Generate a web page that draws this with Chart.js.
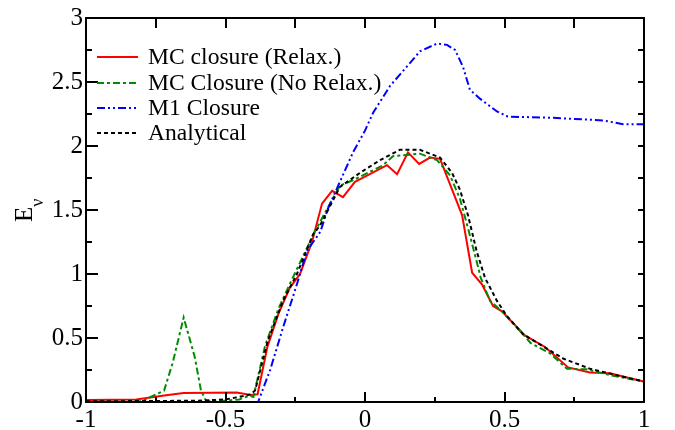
<!DOCTYPE html>
<html>
<head>
<meta charset="utf-8">
<script src="https://cdn.jsdelivr.net/npm/chart.js@4/dist/chart.umd.min.js"></script>
<style>
html,body{margin:0;padding:0;background:#fff;}
#wrap{width:675px;height:430px;position:relative;}
.fl{position:absolute;left:-9999px;top:0;font-family:'Liberation Serif';font-size:20px;}
</style>
</head>
<body>
<div class="fl">Eν MC closure 0.5</div>
<div id="wrap"><canvas id="c" width="675" height="430"></canvas></div>
<script>
// ---- data ----
const seriesNames = ["MC closure (Relax.)", "MC Closure (No Relax.)", "M1 Closure", "Analytical"];

const relaxX = [-1, -0.82, -0.72, -0.65, -0.55, -0.46, -0.41, -0.385, -0.35, -0.31, -0.27, -0.233, -0.19, -0.154, -0.118, -0.079, -0.036, 0.0, 0.079, 0.115, 0.154, 0.194, 0.233, 0.269, 0.348, 0.384, 0.419, 0.459, 0.49, 0.573, 0.645, 0.728, 0.806, 0.878, 0.95, 1.0];
const relaxY = [0.015, 0.02, 0.05, 0.07, 0.072, 0.075, 0.055, 0.06, 0.43, 0.69, 0.89, 1.0, 1.25, 1.55, 1.65, 1.60, 1.72, 1.76, 1.85, 1.78, 1.95, 1.86, 1.91, 1.90, 1.46, 1.01, 0.92, 0.75, 0.71, 0.52, 0.43, 0.27, 0.23, 0.225, 0.185, 0.16];

const noRelaxX = [-1, -0.8, -0.72, -0.69, -0.65, -0.61, -0.588, -0.57, -0.5, -0.45, -0.415, -0.40, -0.358, -0.31, -0.27, -0.18, -0.143, -0.09, -0.036, 0.065, 0.10, 0.15, 0.197, 0.258, 0.305, 0.34, 0.369, 0.40, 0.415, 0.448, 0.49, 0.566, 0.594, 0.663, 0.724, 0.796, 0.878, 0.95, 1.0];
const noRelaxY = [0.0, 0.005, 0.09, 0.3, 0.66, 0.35, 0.09, 0.01, 0.01, 0.02, 0.05, 0.04, 0.44, 0.73, 0.92, 1.33, 1.48, 1.69, 1.74, 1.85, 1.92, 1.93, 1.94, 1.89, 1.77, 1.59, 1.36, 1.10, 0.97, 0.79, 0.71, 0.53, 0.46, 0.38, 0.26, 0.255, 0.21, 0.18, 0.16];

const m1X = [-1, -0.6, -0.383, -0.34, -0.294, -0.244, -0.208, -0.16, -0.133, -0.09, -0.043, 0.0, 0.029, 0.09, 0.15, 0.197, 0.258, 0.294, 0.323, 0.351, 0.376, 0.412, 0.473, 0.512, 0.674, 0.853, 0.925, 1.0];
const m1Y = [0, 0, 0, 0.25, 0.58, 0.92, 1.18, 1.33, 1.51, 1.72, 1.95, 2.12, 2.26, 2.47, 2.62, 2.74, 2.80, 2.79, 2.75, 2.62, 2.44, 2.37, 2.27, 2.23, 2.22, 2.20, 2.17, 2.17];

const anaX = [-1, -0.6, -0.5, -0.45, -0.41, -0.394, -0.348, -0.294, -0.244, -0.186, -0.161, -0.09, -0.018, 0.054, 0.125, 0.197, 0.269, 0.312, 0.34, 0.369, 0.40, 0.43, 0.473, 0.509, 0.566, 0.71, 0.806, 0.9, 1.0];
const anaY = [0.005, 0.01, 0.02, 0.04, 0.06, 0.09, 0.48, 0.79, 1.0, 1.31, 1.38, 1.68, 1.79, 1.89, 1.97, 1.97, 1.91, 1.79, 1.66, 1.46, 1.18, 0.97, 0.79, 0.67, 0.53, 0.34, 0.26, 0.21, 0.16];

const xTickValues = [-1, -0.5, 0, 0.5, 1];
const xTickLabels = ["-1", "-0.5", "0", "0.5", "1"];
const yTickValues = [0, 0.5, 1, 1.5, 2, 2.5, 3];
const yTickLabels = ["0", "0.5", "1", "1.5", "2", "2.5", "3"];

// ---- build ----
function pts(xs, ys){ return xs.map((x,i)=>({x:x, y:ys[i]})); }

const styles = [
  {color:'#ff0000', dash:[]},
  {color:'#008c00', dash:[7,3,3,3]},
  {color:'#0000ff', dash:[8,3,2,3,2,3]},
  {color:'#000000', dash:[4,3]}
];
const allData = [pts(relaxX,relaxY), pts(noRelaxX,noRelaxY), pts(m1X,m1Y), pts(anaX,anaY)];
const order = [3,2,1,0];
const datasets = order.map(i=>({
  label: seriesNames[i],
  data: allData[i],
  borderColor: styles[i].color,
  borderDash: styles[i].dash,
  borderWidth: 2,
  pointRadius: 0,
  fill: false,
  tension: 0,
  showLine: true
}));

const SERIF = "'Liberation Serif', 'Times New Roman', Times, serif";

const bgPlugin = {
  id:'bg',
  beforeDraw(chart){
    const c = chart.ctx;
    c.save(); c.fillStyle='#fff'; c.fillRect(0,0,chart.width,chart.height); c.restore();
  }
};

const framePlugin = {
  id:'frame',
  afterDraw(chart){
    const c = chart.ctx, a = chart.chartArea;
    const xs = chart.scales.x, ys = chart.scales.y;
    c.save();
    c.strokeStyle = '#000';
    c.lineWidth = 2;
    c.setLineDash([]);
    c.strokeRect(a.left, a.top, a.right-a.left, a.bottom-a.top);
    c.beginPath();
    for (let k=0;k<=8;k++){
      const v = -1 + k*0.25;
      const px = Math.round(xs.getPixelForValue(v));
      const major = (k%2===0);
      const lb = major ? 10 : 5;
      c.moveTo(px, a.bottom); c.lineTo(px, a.bottom-lb);
      c.moveTo(px, a.top); c.lineTo(px, a.top+10);
    }
    for (let k=0;k<=12;k++){
      const v = k*0.25;
      const py = Math.round(ys.getPixelForValue(v));
      const major = (k%2===0);
      const ll = major ? 12 : 6;
      c.moveTo(a.left, py); c.lineTo(a.left+ll, py);
      c.moveTo(a.right, py); c.lineTo(a.right-6, py);
    }
    c.stroke();

    // legend
    const rows = [57, 83, 108, 133];
    for (let i=0;i<4;i++){
      const st = styles[i];
      c.beginPath();
      c.strokeStyle = st.color;
      c.lineWidth = 2;
      c.setLineDash(st.dash);
      c.moveTo(97, rows[i]); c.lineTo(138, rows[i]);
      c.stroke();
      c.setLineDash([]);
      c.fillStyle = '#000';
      c.font = "23.6px " + SERIF;
      c.textAlign = 'left';
      c.textBaseline = 'middle';
      c.fillText(seriesNames[i], 148, rows[i]+1);
    }

    // y-axis label E_nu (rotated)
    c.save();
    c.translate(32, 222);
    c.rotate(-Math.PI/2);
    c.fillStyle = '#000';
    c.textAlign = 'left';
    c.textBaseline = 'alphabetic';
    c.font = "25px " + SERIF;
    c.fillText('E', 0, 0);
    const w = c.measureText('E').width;
    c.font = "18px " + SERIF;
    c.fillText('\u03BD', w, 11);
    c.restore();

    c.restore();
  }
};

const chart = new Chart(document.getElementById('c'), {
  type: 'line',
  data: { datasets: datasets },
  options: {
    responsive: false,
    animation: false,
    devicePixelRatio: 1,
    layout: { padding: { top: 14, right: 31, left: 0, bottom: 0 } },
    plugins: { legend: { display:false }, tooltip: { enabled:false } },
    scales: {
      x: {
        type: 'linear', min: -1, max: 1,
        afterFit(s){ s.height = 28; },
        afterBuildTicks(s){ s.ticks = xTickValues.map(v=>({value:v})); },
        ticks: { font: { family: SERIF, size: 25 }, color:'#000', padding: 3, maxRotation:0, autoSkip:false,
                 callback: (v)=>{ const i = xTickValues.indexOf(v); return i>=0 ? xTickLabels[i] : ''; } },
        grid: { display:false, drawTicks:false },
        border: { display:false }
      },
      y: {
        type: 'linear', min: 0, max: 3,
        afterFit(s){ s.width = 86; },
        afterBuildTicks(s){ s.ticks = yTickValues.map(v=>({value:v})); },
        ticks: { font: { family: SERIF, size: 25 }, color:'#000', padding: 3, autoSkip:false,
                 callback: (v)=>{ const i = yTickValues.indexOf(v); return i>=0 ? yTickLabels[i] : ''; } },
        grid: { display:false, drawTicks:false },
        border: { display:false }
      }
    }
  },
  plugins: [bgPlugin, framePlugin]
});
if (document.fonts && document.fonts.load) {
  Promise.all([document.fonts.load("25px 'Liberation Serif'"), document.fonts.load("18px 'Liberation Serif'", "\u03BD")])
    .then(()=>{ chart.update(); }).catch(()=>{});
}
</script>
</body>
</html>
